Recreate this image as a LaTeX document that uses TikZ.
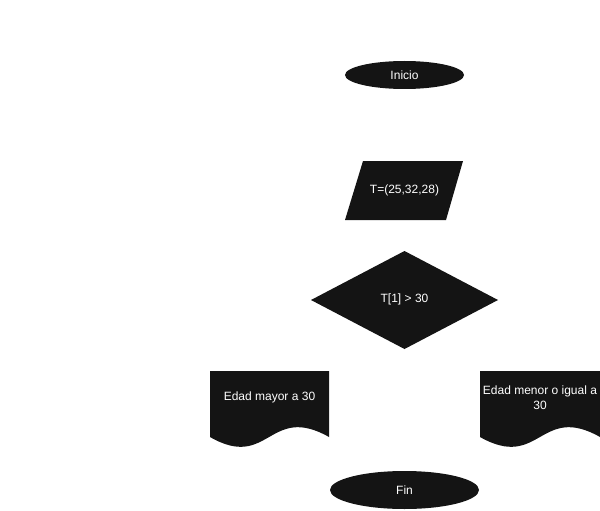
\documentclass[tikz,border=0pt]{standalone}
\usepackage{fontspec}
\setmainfont{Liberation Sans}
\definecolor{shapefill}{RGB}{20,20,20}
\begin{document}
\begin{tikzpicture}[x=1pt,y=-1pt,
  shapebox/.style={fill=shapefill,draw=none},
  label/.style={text=white,font=\fontsize{12}{15}\selectfont,align=center,inner sep=0pt}]
\useasboundingbox (0,0) rectangle (600,511);
% Inicio
\fill[shapefill] (404.5,75) ellipse [x radius=59.5pt,y radius=14pt];
\node[label] (inicio) at (404.5,75) {Inicio};
% Parallelogram
\fill[shapefill] (363,161) -- (463,161) -- (446,220) -- (345,220) -- cycle;
\node[label] (datos) at (404.5,190) {T=(25,32,28)};
% Diamond
\fill[shapefill] (404.5,251) -- (498,300) -- (404.5,349) -- (311,300) -- cycle;
\node[label] (cond) at (404.5,299) {T[1] > 30};
% Document left
\fill[shapefill] (210,371) -- (329,371) -- (329,437)
  .. controls (269,403) and (269,471) .. (210,437) -- cycle;
\node[label] (mayor) at (269.5,397) {Edad mayor a 30};
% Document right
\fill[shapefill] (480,371) -- (600,371) -- (600,437)
  .. controls (540,403) and (540,471) .. (480,437) -- cycle;
\node[label] (menor) at (540,398) {Edad menor o igual a\\30};
% Fin
\fill[shapefill] (404.5,490) ellipse [x radius=74.5pt,y radius=19pt];
\node[label] (fin) at (404.5,490) {Fin};
\end{tikzpicture}
\end{document}
